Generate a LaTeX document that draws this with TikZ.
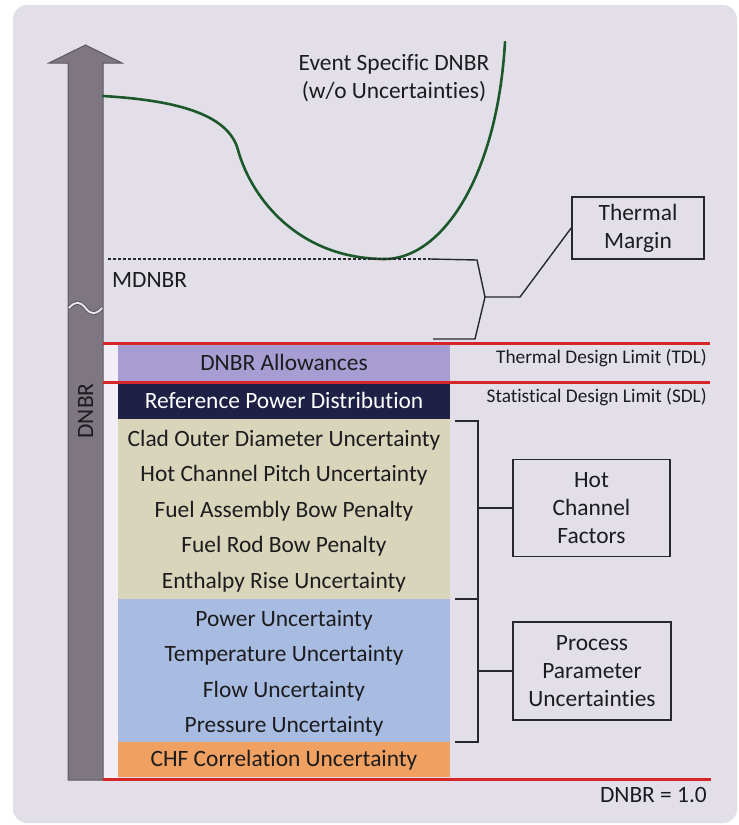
\documentclass[tikz,border=0pt]{standalone}
\usepackage{fontspec}
\setmainfont[Ligatures={NoCommon,NoRare,NoContextual}]{Carlito}
\definecolor{bgc}{RGB}{226,223,233}
\definecolor{stripc}{RGB}{241,239,245}
\definecolor{shaftc}{RGB}{126,119,130}
\definecolor{shaftd}{RGB}{92,87,98}
\definecolor{curvec}{RGB}{28,88,42}
\definecolor{redc}{RGB}{214,38,40}
\definecolor{allowc}{RGB}{167,157,211}
\definecolor{refc}{RGB}{30,32,70}
\definecolor{tanc}{RGB}{216,213,186}
\definecolor{bluec}{RGB}{168,188,226}
\definecolor{orangec}{RGB}{240,160,96}
\definecolor{inkc}{RGB}{28,28,30}
\definecolor{linec}{RGB}{40,40,44}
\tikzset{
  big/.style={font=\fontsize{23.4}{28}\selectfont, text=inkc},
  small/.style={font=\fontsize{19.3}{23}\selectfont, text=inkc},
  layer/.style={big, inner sep=0pt, minimum width=332pt, align=center},
  stack/.style={big, inner sep=0pt, align=center, font=\fontsize{23.4}{35.4}\selectfont},
  labelbox/.style={big, draw=linec, line width=1.6pt, inner sep=0pt, align=center},
  redline/.style={draw=redc, line width=3pt},
  bracket/.style={draw=linec, line width=1.8pt},
  thin/.style={draw=linec, line width=1.4pt}
}
\begin{document}
\begin{tikzpicture}[x=1pt,y=-1pt]
\useasboundingbox (0,0) rectangle (739,825);
\fill[white] (0,0) rectangle (739,825);
\fill[bgc, rounded corners=14pt] (13,5) rectangle (737,823);
\fill[stripc] (103,343) rectangle (118,779);

% DNBR axis arrow
\filldraw[fill=shaftc, draw=shaftd, line width=1pt]
  (68,780) -- (68,63) -- (49,63) -- (85.5,45) -- (122,63) -- (103,63) -- (103,780) -- cycle;
\node[big, rotate=90] (axis) at (85.5,411) {DNBR};
% axis break
\draw[shaftd, line width=3.6pt] (69,308) .. controls (75,301) and (80,301) .. (85.5,308) .. controls (91,315) and (96,315) .. (102,308);
\draw[white!85!shaftc, line width=1.8pt] (69,308) .. controls (75,301) and (80,301) .. (85.5,308) .. controls (91,315) and (96,315) .. (102,308);

% event curve
\draw[curvec, line width=2.6pt, line cap=round]
  (103,96) .. controls (170,100) and (228,112) .. (238,150)
  .. controls (252,200) and (300,259) .. (385,259)
  .. controls (440,259) and (497,180) .. (505,42);
\node[big, align=center] (event) at (394,78) {Event Specific DNBR\\(w/o Uncertainties)};

% MDNBR
\coordinate (md0) at (108,259);
\coordinate (md1) at (430,259);
\draw[linec, line width=1.3pt, dash pattern=on 3pt off 2pt] (md0) -- (md1);
\node[big, anchor=base west, inner sep=0pt] (mdnbr) at (112,287) {MDNBR};

% thermal margin brace
\node[labelbox, minimum width=132pt, minimum height=62pt] (tm) at (638,228) {Thermal\\Margin};
\coordinate (tmb) at (485,297);
\coordinate (tmk) at (520,297);
\draw[thin] (md1) -- (477,260) -- (tmb) -- (475,339) -- (433,339);
\draw[thin] (tmb) -- (tmk) -- (tm.west);

% layers
\node[layer, fill=allowc, minimum height=36pt, text height=17pt, text depth=3pt] (allow) at (284,363) {DNBR Allowances};
\node[layer, fill=refc, minimum height=35pt, text=white, text height=17pt, text depth=4pt] (refpd) at (284,401.5) {Reference Power Distribution};
\node[fill=tanc, inner sep=0pt, minimum width=332pt, minimum height=180pt] (hcbox) at (284,509) {};
\node[stack] (hctext) at (284,511) {Clad Outer Diameter Uncertainty\\Hot Channel Pitch Uncertainty\\Fuel Assembly Bow Penalty\\Fuel Rod Bow Penalty\\Enthalpy Rise Uncertainty};
\node[fill=bluec, inner sep=0pt, minimum width=332pt, minimum height=143pt] (ppbox) at (284,670.5) {};
\node[stack] (pptext) at (284,673.5) {Power Uncertainty\\Temperature Uncertainty\\Flow Uncertainty\\Pressure Uncertainty};
\node[layer, fill=orangec, minimum height=35pt, text height=17pt, text depth=3pt] (chf) at (284,759.5) {CHF Correlation Uncertainty};

% limit lines
\draw[redline] (103,343) -- (710,343);
\draw[redline] (103,382) -- (710,382);
\draw[redline] (103,779) -- (711,779);
\node[small, anchor=base east, inner sep=0pt] (tdl) at (707,363) {Thermal Design Limit (TDL)};
\node[small, anchor=base east, inner sep=0pt] (sdl) at (707,402) {Statistical Design Limit (SDL)};
\node[big, anchor=base east, inner sep=0pt] (one) at (707,802) {DNBR = 1.0};

% brackets
\node[labelbox, minimum width=157pt, minimum height=97pt] (hcf) at (591.5,508) {Hot\\Channel\\Factors};
\node[labelbox, minimum width=158pt, minimum height=98pt] (ppu) at (592,671) {Process\\Parameter\\Uncertainties};
\coordinate (hcm) at (478,508);
\coordinate (ppm) at (478,671);
\draw[bracket] (455,421) -- (478,421) -- (478,742) -- (455,742);
\draw[bracket] (455,599) -- (478,599);
\draw[bracket] (hcm) -- (hcf.west);
\draw[bracket] (ppm) -- (ppu.west);
\end{tikzpicture}
\end{document}
